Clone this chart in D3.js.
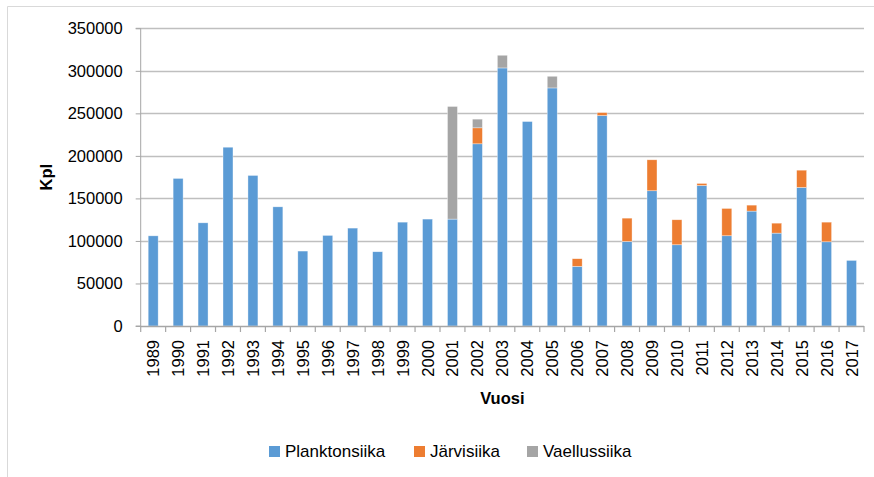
<!DOCTYPE html>
<html>
  <head>
    <title>Siika - Kpl per vuosi</title>
    <style>
      body { margin: 0; background: #fff; }
      text { font-family: 'Liberation Sans', Arial, sans-serif; fill: #000; }
    </style>
  </head>
  <body>
    <script src="https://cdnjs.cloudflare.com/ajax/libs/d3/7.8.5/d3.min.js"></script>
    <script>
      let years = ['1989', '1990', '1991', '1992', '1993', '1994', '1995', '1996', '1997', '1998',
                   '1999', '2000', '2001', '2002', '2003', '2004', '2005', '2006', '2007', '2008',
                   '2009', '2010', '2011', '2012', '2013', '2014', '2015', '2016', '2017'];

      let plankton = [106000, 173500, 121300, 210200, 177000, 140100, 88100, 106500, 115100, 87300,
                      122100, 125700, 125700, 214200, 303400, 240400, 279900, 70100, 247400, 99400,
                      159000, 95500, 165200, 106100, 135100, 109200, 162900, 99000, 77100];
      let jarvi = [0, 0, 0, 0, 0, 0, 0, 0, 0, 0,
                   0, 0, 0, 18800, 0, 0, 0, 9000, 3500, 27400,
                   36400, 29400, 2400, 32100, 7000, 11700, 20300, 23100, 0];
      let vaellus = [0, 0, 0, 0, 0, 0, 0, 0, 0, 0,
                     0, 0, 132400, 10200, 14900, 0, 13700, 0, 0, 0,
                     0, 0, 0, 0, 0, 0, 0, 0, 0];

      let seriesNames = ['Planktonsiika', 'Järvisiika', 'Vaellussiika'];
      let seriesKeys = ['plankton', 'jarvi', 'vaellus'];
      let colors = ['#5b9bd5', '#ed7d31', '#a5a5a5'];
      let yTicks = [0, 50000, 100000, 150000, 200000, 250000, 300000, 350000];

      let rows = years.map((y, i) => ({ year: y, plankton: plankton[i], jarvi: jarvi[i], vaellus: vaellus[i] }));

      let svg = d3.select('body')
                  .append('svg')
                  .attr('width', 874)
                  .attr('height', 477);

      // outer frame (top + left edges visible)
      svg.append('path')
         .attr('d', 'M7.5,477 L7.5,6.5 L874,6.5')
         .attr('fill', 'none')
         .attr('stroke', '#d9d9d9')
         .attr('stroke-width', 1);

      let plotLeft = 140.7, plotRight = 864, plotTop = 28.3, plotBottom = 326;

      let xScale = d3.scaleBand()
                     .domain(years)
                     .range([plotLeft, plotRight])
                     .paddingInner(0.6)
                     .paddingOuter(0.3);

      let yScale = d3.scaleLinear()
                     .domain([0, 350000])
                     .range([plotBottom, plotTop]);

      // gridlines
      svg.append('g')
         .selectAll('line')
         .data(yTicks.filter(d => d > 0))
         .enter()
           .append('line')
           .attr('x1', plotLeft)
           .attr('x2', plotRight)
           .attr('y1', d => Math.round(yScale(d)) + 0.5)
           .attr('y2', d => Math.round(yScale(d)) + 0.5)
           .attr('stroke', '#bfbfbf')
           .attr('stroke-width', 1.3);

      // stacked bars
      let stacked = d3.stack().keys(seriesKeys)(rows);

      svg.append('g')
         .selectAll('g')
         .data(stacked)
         .enter()
           .append('g')
           .attr('fill', (d, i) => colors[i])
         .selectAll('rect')
         .data(d => d.filter(s => s[1] - s[0] > 0))
         .enter()
           .append('rect')
           .attr('x', d => xScale(d.data.year))
           .attr('width', xScale.bandwidth())
           .attr('y', d => yScale(d[1]))
           .attr('height', d => yScale(d[0]) - yScale(d[1]))
           .attr('stroke', '#ffffff')
           .attr('stroke-opacity', 0.6)
           .attr('stroke-width', 0.6);

      // y axis
      let yAxis = d3.axisLeft(yScale)
                    .tickValues(yTicks)
                    .tickSize(5)
                    .tickPadding(13)
                    .tickFormat(d3.format('d'));

      let gy = svg.append('g')
                  .attr('transform', 'translate(' + plotLeft + ',0)')
                  .call(yAxis);
      gy.select('.domain').attr('stroke', '#a6a6a6').attr('d', 'M-5,' + plotTop + 'H0V' + plotBottom + 'H-5');
      gy.selectAll('.tick line').attr('stroke', '#a6a6a6');
      gy.selectAll('.tick text')
        .style('font-family', "'Liberation Sans', Arial, sans-serif")
        .style('font-size', '16.5px')
        .attr('fill', '#000');

      // x axis line + ticks at category boundaries
      let step = xScale.step();
      let boundaries = d3.range(years.length + 1).map(i => plotLeft + i * step);

      svg.append('line')
         .attr('x1', plotLeft)
         .attr('x2', plotRight)
         .attr('y1', plotBottom + 0.5)
         .attr('y2', plotBottom + 0.5)
         .attr('stroke', '#a6a6a6')
         .attr('stroke-width', 1.3);

      svg.append('g')
         .selectAll('line')
         .data(boundaries)
         .enter()
           .append('line')
           .attr('x1', d => d)
           .attr('x2', d => d)
           .attr('y1', plotBottom)
           .attr('y2', plotBottom + 6)
           .attr('stroke', '#a6a6a6')
           .attr('stroke-width', 1.2);

      // x labels, rotated
      svg.append('g')
         .selectAll('text')
         .data(years)
         .enter()
           .append('text')
           .attr('transform', d => 'translate(' + (xScale(d) + xScale.bandwidth() / 2 + 6) + ',' + (plotBottom + 14) + ') rotate(-90)')
           .attr('text-anchor', 'end')
           .style('font-size', '16.5px')
           .text(d => d);

      // axis titles
      svg.append('text')
         .attr('x', (plotLeft + plotRight) / 2)
         .attr('y', 404)
         .attr('text-anchor', 'middle')
         .style('font-size', '16.5px')
         .style('font-weight', 'bold')
         .text('Vuosi');

      svg.append('text')
         .attr('transform', 'translate(52,' + (plotTop + plotBottom) / 2 + ') rotate(-90)')
         .attr('text-anchor', 'middle')
         .style('font-size', '16.5px')
         .style('font-weight', 'bold')
         .text('Kpl');

      // legend
      let legendX = [269, 414, 527];
      let legend = svg.append('g')
                      .selectAll('g')
                      .data(seriesNames)
                      .enter()
                        .append('g')
                        .attr('transform', (d, i) => 'translate(' + legendX[i] + ',446)');

      legend.append('rect')
            .attr('width', 11)
            .attr('height', 11)
            .attr('fill', (d, i) => colors[i]);

      legend.append('text')
            .attr('x', 16)
            .attr('y', 11)
            .style('font-size', '17px')
            .text(d => d);
    </script>
  </body>
</html>
